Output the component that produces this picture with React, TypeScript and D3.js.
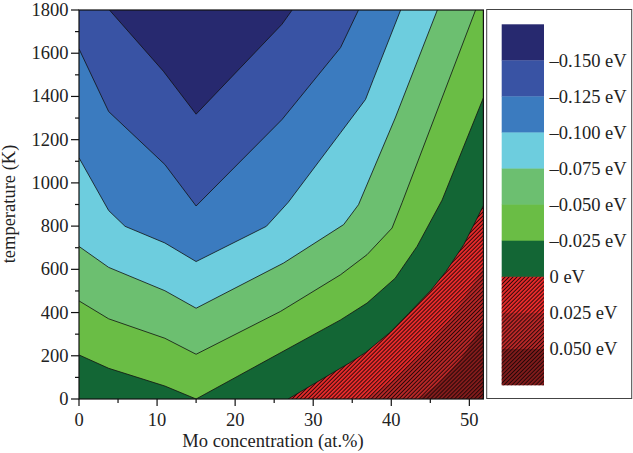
import React from 'react';
import * as d3 from 'd3';

const W = 633;
const H = 453;

// Axis domains and ticks
const xDomain: [number, number] = [0, 51.8];
const yDomain: [number, number] = [0, 1800];
const xMajorTicks = [0, 10, 20, 30, 40, 50];
const xMinorTicks = [5, 15, 25, 35, 45];
const yMajorTicks = [0, 200, 400, 600, 800, 1000, 1200, 1400, 1600, 1800];
const yMinorTicks = [100, 300, 500, 700, 900, 1100, 1300, 1500, 1700];

// Contour levels (eV)
const levels = [-0.15, -0.125, -0.1, -0.075, -0.05, -0.025, 0, 0.025, 0.05];
// band colors: index k = region below levels[k]; last = above 0.05
const bandColors = ['#27296f', '#3953a4', '#3b7bbf', '#6dcdde', '#6cbf70', '#6abd45', '#136635', '#ee2b2b', '#c02828', '#861c1c'];
const hatchedBands = [7, 8, 9];
const legendLabels = ['–0.150 eV', '–0.125 eV', '–0.100 eV', '–0.075 eV', '–0.050 eV', '–0.025 eV', '0 eV', '0.025 eV', '0.050 eV'];

// Contour lines [Mo at.%, T K]
const lineM150 = [[3.9, 1800], [10.8, 1517], [15, 1318], [26, 1734], [27.3, 1800]];
const lineM125 = [[0, 1620], [3.8, 1330], [11, 1085], [15, 893], [26, 1293], [33.5, 1626], [35.8, 1800]];
const lineM100 = [[0, 1116], [3.8, 872], [5.9, 799], [11, 722], [15, 636], [24, 799], [26.8, 910], [33.5, 1232], [36.7, 1386], [37.7, 1479], [41.2, 1800]];
const lineM075 = [[0, 706], [3.8, 609], [11, 501], [15, 420], [26.2, 629], [33.9, 807], [35.8, 899], [40.5, 1300], [45.9, 1800]];
const lineM050 = [[0, 454], [3.8, 371], [11, 281], [15, 207], [25.8, 405], [33.5, 575], [36.9, 668], [40.1, 791], [41.4, 910], [50.8, 1800]];
const lineM025 = [[0, 204], [3.8, 142], [11, 60], [15, 0], [33.5, 366], [36.9, 444], [40.5, 559], [43.3, 706], [46.5, 920], [51.8, 1394]];
const lineZero = [[26.8, 0], [32.2, 115], [34.7, 168], [36.7, 215], [39.9, 310], [42.2, 395], [45, 500], [47, 590], [49.3, 715], [50.9, 830], [51.8, 895]];
const lineP025 = [[36.8, 0], [40, 80], [44, 210], [48, 390], [51.8, 610]];
const lineP050 = [[43.5, 0], [46, 70], [49, 190], [51.8, 350]];

const contourLines = [lineM150, lineM125, lineM100, lineM075, lineM050, lineM025, lineZero, lineP025, lineP050];
const strokedLevels = [0, 1, 2, 3, 4, 5, 6];

const plotLeft = 79;
const plotRight = 483.4;
const plotTop = 10;
const plotBottom = 399;

const FONT = '"Liberation Serif", "Times New Roman", "DejaVu Serif", serif';

function regionAbove(line: number[][]): number[][] {
  const pts = line.map((p) => [p[0], p[1]]);
  const first = line[0];
  const last = line[line.length - 1];
  const xMax = xDomain[1];
  const yMax = yDomain[1];
  if (last[0] >= xMax - 1e-6 && last[1] < yMax) pts.push([xMax, yMax]);
  pts.push([0, yMax]);
  if (first[1] <= 1e-6 && first[0] > 0) pts.push([0, 0]);
  return pts;
}

export default function App() {
  const x = d3.scaleLinear().domain(xDomain).range([plotLeft, plotRight]);
  const y = d3.scaleLinear().domain(yDomain).range([plotBottom, plotTop]);
  const lineGen = d3.line<number[]>().x((d) => x(d[0])).y((d) => y(d[1]));
  const areaPath = (pts: number[][]) => lineGen(pts) + 'Z';

  // legend geometry
  const legX = 501.7;
  const legW = 42.3;
  const legTop = 24.3;
  const legBottom = 385;
  const nBands = bandColors.length;
  const legScale = d3.scaleLinear().domain([0, nBands]).range([legTop, legBottom]);

  const fills: any[] = [];
  fills.push(<rect key="base" x={plotLeft} y={plotTop} width={plotRight - plotLeft} height={plotBottom - plotTop} fill={bandColors[9]} />);
  for (let k = levels.length - 1; k >= 0; k--) {
    fills.push(<path key={'f' + k} d={areaPath(regionAbove(contourLines[k]))} fill={bandColors[k]} />);
    if (k === 7) {
      fills.push(<rect key="hatch" x={plotLeft} y={plotTop} width={plotRight - plotLeft} height={plotBottom - plotTop} fill="url(#hatch)" />);
    }
  }

  return (
    <svg width={W} height={H} style={{ position: 'fixed', left: 0, top: 0, background: '#fff' }} fontFamily={FONT}>
      <defs>
        <pattern id="hatch" patternUnits="userSpaceOnUse" width="2.8" height="2.8" patternTransform="rotate(45)">
          <line x1="1.4" y1="-1" x2="1.4" y2="3.8" stroke="#1a0505" strokeWidth="1.05" strokeOpacity="0.9" />
        </pattern>
        <clipPath id="plotClip">
          <rect x={plotLeft} y={plotTop} width={plotRight - plotLeft} height={plotBottom - plotTop} />
        </clipPath>
      </defs>
      <rect x={0} y={0} width={W} height={H} fill="#fff" />
      <g clipPath="url(#plotClip)">
        {fills}
        {strokedLevels.map((k) => (
          <path key={'l' + k} d={lineGen(contourLines[k]) || ''} fill="none" stroke="#111" strokeWidth={0.8} />
        ))}
      </g>
      {/* frame */}
      <rect x={plotLeft} y={plotTop} width={plotRight - plotLeft} height={plotBottom - plotTop} fill="none" stroke="#111" strokeWidth={1.2} />
      {/* x ticks */}
      {xMajorTicks.map((t) => (
        <g key={'xt' + t}>
          <line x1={x(t)} x2={x(t)} y1={plotBottom} y2={plotBottom + 7} stroke="#111" strokeWidth={1.2} />
          <text x={x(t)} y={425.5} textAnchor="middle" fontSize={18.5} fill="#222">{t}</text>
        </g>
      ))}
      {xMinorTicks.map((t) => (
        <line key={'xm' + t} x1={x(t)} x2={x(t)} y1={plotBottom} y2={plotBottom + 4} stroke="#111" strokeWidth={1.2} />
      ))}
      {/* y ticks */}
      {yMajorTicks.map((t) => (
        <g key={'yt' + t}>
          <line x1={plotLeft - 8} x2={plotLeft} y1={y(t)} y2={y(t)} stroke="#111" strokeWidth={1.2} />
          <text x={68.5} y={y(t) + 6} textAnchor="end" fontSize={18.5} fill="#222">{t}</text>
        </g>
      ))}
      {yMinorTicks.map((t) => (
        <line key={'ym' + t} x1={plotLeft - 4} x2={plotLeft} y1={y(t)} y2={y(t)} stroke="#111" strokeWidth={1.2} />
      ))}
      <text x={273} y={447} textAnchor="middle" fontSize={18.5} fill="#222">Mo concentration (at.%)</text>
      <text transform={`translate(14.5, 204) rotate(-90)`} textAnchor="middle" fontSize={18.5} fill="#222">temperature (K)</text>
      {/* legend */}
      <rect x={486.7} y={9.5} width={145} height={389} fill="#fff" stroke="#444" strokeWidth={1} />
      {bandColors.map((c, k) => (
        <g key={'lg' + k}>
          <rect x={legX} y={legScale(k)} width={legW} height={legScale(k + 1) - legScale(k) + 0.3} fill={c} />
          {hatchedBands.includes(k) && (
            <rect x={legX} y={legScale(k)} width={legW} height={legScale(k + 1) - legScale(k) + 0.3} fill="url(#hatch)" />
          )}
        </g>
      ))}
      {legendLabels.map((lab, i) => (
        <text key={'ll' + i} x={549.5} y={legScale(i + 1) + 6.5} fontSize={18.5} fill="#222">{lab}</text>
      ))}
    </svg>
  );
}
